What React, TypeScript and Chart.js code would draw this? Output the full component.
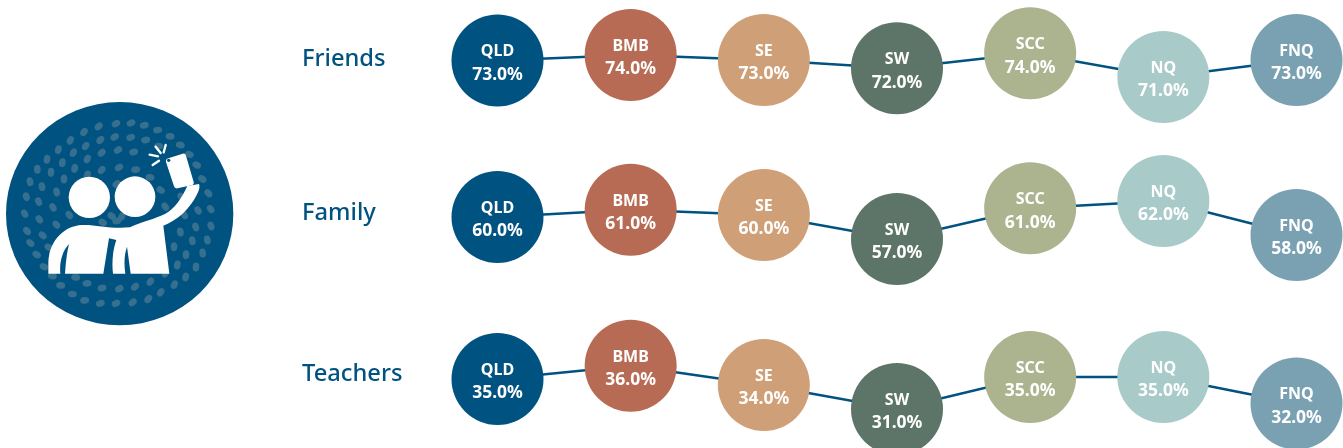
import React, { useEffect, useRef } from "react";
import { Chart, registerables } from "chart.js";

Chart.register(...registerables);

// Region codes shown in each bubble
const regions = ["QLD", "BMB", "SE", "SW", "SCC", "NQ", "FNQ"];
const regionColors = ["#005280", "#B86B54", "#CFA077", "#5D7568", "#ABB48F", "#A8CAC8", "#7AA1B2"];

// Printed values are whole-number percentages; plotted values keep the finer offsets seen in the picture
const friends = [72.95, 73.6, 73.0, 72.03, 73.8, 71.0, 73.0];
const family = [60.0, 60.9, 60.25, 57.25, 61.1, 62.0, 57.75];
const teachers = [34.75, 36.4, 34.0, 31.0, 35.0, 35.0, 31.7];

const rowLabels = ["Friends", "Family", "Teachers"];
const rowLabelY = [59, 213, 374];

const NAVY = "#005280";
const FONT = '"Noto Sans", sans-serif';

// Decorative speckles of the icon (in the icon's own 750-unit drawing space)
const speckles = [
  [296,109],[348,101],[393,99],[433,106],[473,120],[510,139],[541,165],[568,193],[590,225],[607,267],[625,310],[632,357],[633,408],[622,450],[608,489],[588,531],[557,561],[523,584],[482,607],[445,627],[398,637],[348,640],[301,640],[254,631],[217,612],[182,586],[157,558],[132,530],[110,494],[91,459],[81,423],[74,371],[79,320],[90,275],[112,238],[141,208],[175,179],[211,151],[252,126],
  [301,150],[344,141],[392,142],[437,150],[476,168],[257,168],[220,188],[187,218],[153,247],[126,290],[116,335],[118,388],[128,436],[146,472],[522,470],[541,426],[587,411],[594,361],[577,452],[558,494],[532,525],[496,550],[451,575],[405,590],[358,596],[306,594],[261,580],[227,562],
  [305,188],[354,180],[401,186],[262,207],[224,235],[192,267],[170,306],[159,352],[169,404],[357,232],[407,239],[305,240],[450,262],[482,300],[496,350],[553,375],[544,320],[208,375],
  [335,378],[365,380],[350,393],[308,397],[350,282],[262,255],
];

const bubbleText = {
  id: "bubbleText",
  afterDatasetsDraw(chart: any) {
    const { ctx } = chart;
    ctx.save();
    chart.data.datasets.forEach((ds: any, di: number) => {
      const meta = chart.getDatasetMeta(di);
      meta.data.forEach((pt: any, i: number) => {
        ctx.textAlign = "center";
        ctx.textBaseline = "middle";
        ctx.fillStyle = "#ffffff";
        ctx.font = `700 16px ${FONT}`;
        ctx.fillText(regions[i], pt.x, pt.y - 8.5);
        ctx.font = `700 17.5px ${FONT}`;
        ctx.fillText(`${Math.round(ds.data[i]).toFixed(1)}%`, pt.x, pt.y + 14.5);
      });
    });
    ctx.textAlign = "left";
    ctx.textBaseline = "middle";
    ctx.fillStyle = NAVY;
    ctx.font = `500 23.7px ${FONT}`;
    rowLabels.forEach((label, i) => ctx.fillText(label, 302, rowLabelY[i]));
    ctx.restore();
  },
};

function Icon() {
  return (
    <svg
      width={250}
      height={250}
      viewBox="0 0 750 750"
      style={{ position: "absolute", left: 0, top: 90 }}
    >
      <ellipse cx={359} cy={371} rx={341} ry={335} fill={NAVY} />
      {speckles.map(([x, y], k) => {
        const deg = (Math.atan2(y - 368, x - 357) * 180) / Math.PI + 60;
        return (
          <ellipse key={k} cx={x} cy={y} rx={13.5} ry={10} transform={`rotate(${deg} ${x} ${y})`} fill="#37708F" />
        );
      })}
      <circle cx={268} cy={322} r={62} fill="#fff" />
      <circle cx={405} cy={320} r={61} fill="#fff" />
      <path
        fill="#fff"
        d="M145 551 L145 515 C148 455 190 408 245 405 C290 403 330 418 390 412 C425 395 470 385 495 372 C525 355 545 325 562 288 L597 282 C600 290 598 300 590 315 C570 355 535 390 490 407 L508 551 L392 551 L381 470 C372 495 372 525 376 551 L339 551 C335 520 338 480 349 450 L327 445 L310 551 L195 551 C197 520 200 490 207 462 C185 485 178 520 181 551 Z"
      />
      <path
        fill="#fff"
        d="M505 205 L548 191 Q556 189 558 197 L581 276 Q583 283 575 286 L532 295 Q524 296 522 289 L498 216 Q496 208 505 205 Z"
      />
      <circle cx={506} cy={211} r={5} fill={NAVY} />
      <g stroke="#fff" strokeWidth={7} strokeLinecap="round">
        <line x1={467} y1={170} x2={482} y2={189} />
        <line x1={497} y1={165} x2={491} y2={187} />
        <line x1={449} y1={194} x2={474} y2={199} />
        <line x1={458} y1={225} x2={477} y2={212} />
      </g>
    </svg>
  );
}

export default function App() {
  const ref = useRef<HTMLCanvasElement>(null);
  useEffect(() => {
    const line = (data: number[], yAxisID: string) => ({
      data,
      yAxisID,
      borderColor: NAVY,
      borderWidth: 2.5,
      tension: 0,
      pointRadius: 46,
      pointHoverRadius: 46,
      pointBorderWidth: 0,
      pointBackgroundColor: regionColors,
      clip: false as const,
    });
    const hidden = (min: number, max: number) => ({ display: false, min, max });
    const chart = new Chart(ref.current!, {
      type: "line",
      data: {
        labels: regions,
        datasets: [line(friends, "yF"), line(family, "yM"), line(teachers, "yT")],
      },
      options: {
        animation: false,
        responsive: false,
        layout: { autoPadding: false, padding: { left: 497.5, right: 46.5, top: 0, bottom: 0 } },
        plugins: { legend: { display: false }, tooltip: { enabled: false } },
        scales: {
          x: { display: false, offset: false },
          yF: hidden(27.353, 80.059),
          yM: hidden(31.125, 87.125),
          yT: hidden(26.125, 82.125),
        },
      },
      plugins: [bubbleText],
    });
    return () => chart.destroy();
  }, []);
  return (
    <div style={{ position: "fixed", left: 0, top: 0, width: 1343, height: 448, background: "#fff", overflow: "hidden" }}>
      <Icon />
      <canvas ref={ref} width={1343} height={448} style={{ position: "absolute", left: 0, top: 0 }} />
    </div>
  );
}
